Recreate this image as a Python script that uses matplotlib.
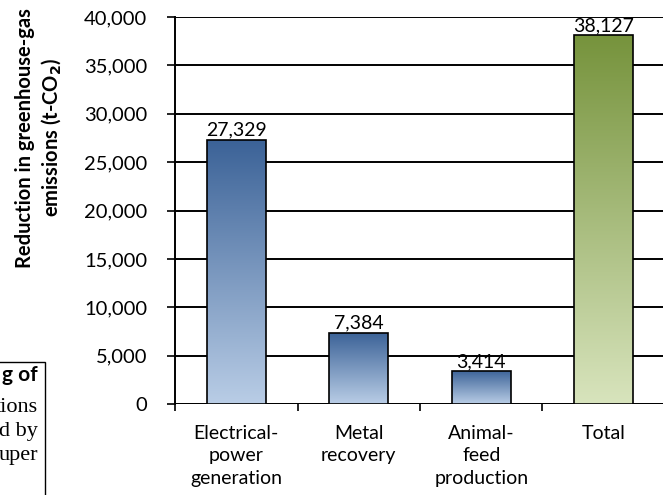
import numpy as np
import matplotlib.pyplot as plt
from matplotlib.colors import LinearSegmentedColormap
from matplotlib.ticker import FuncFormatter

# reduction in GHG emissions (t-CO2)
categories = ['Electrical-\npower\ngeneration', 'Metal\nrecovery', 'Animal-\nfeed\nproduction', 'Total']
values = [27329, 7384, 3414, 38127]
value_labels = ['27,329', '7,384', '3,414', '38,127']

# gradient colours (top, bottom) per bar
blue = ('#3b6297', '#b9cde6')
green = ('#76933c', '#d8e4bd')
bar_colors = [blue, blue, blue, green]

font = 'Lato'
plt.rcParams['font.family'] = font

fig = plt.figure(figsize=(6.63, 4.95), dpi=100)
ax = fig.add_axes([0.264, 0.1838, 0.739, 0.7818])

x = np.arange(len(values))
bars = ax.bar(x, values, width=0.48, facecolor='none', edgecolor='black',
              linewidth=1.2, zorder=4)

# fill every bar with a vertical gradient, clipped to the bar
grad = np.linspace(0, 1, 256).reshape(-1, 1)
for rect, (top, bot) in zip(bars, bar_colors):
    cmap = LinearSegmentedColormap.from_list('g', [bot, top])
    x0 = rect.get_x()
    im = ax.imshow(grad, extent=[x0, x0 + rect.get_width(), 0, rect.get_height()],
                   origin='lower', aspect='auto', cmap=cmap, zorder=3)
    im.set_clip_path(rect)

for xi, v, lab in zip(x, values, value_labels):
    ax.text(xi, v + 100, lab, ha='center', va='bottom', fontsize=14, zorder=5)

ax.set_xlim(-0.5, 3.5)
ax.set_ylim(0, 40000)
ax.set_yticks(np.arange(0, 40001, 5000))
ax.yaxis.set_major_formatter(FuncFormatter(lambda v, p: f'{int(v):,}'))
ax.set_xticks(x)
ax.set_xticklabels(categories, linespacing=1.4)
ax.set_xticks(np.arange(-0.5, 3.6, 1), minor=True)

ax.grid(axis='y', color='black', linewidth=1.4, zorder=1)
ax.set_axisbelow(True)
for s in ['top', 'right', 'bottom']:
    ax.spines[s].set_visible(False)
ax.spines['left'].set_linewidth(1.4)
ax.axhline(0, color='black', linewidth=1.4, zorder=2)

ax.tick_params(axis='y', labelsize=14.5, direction='out', length=6, width=1.2, pad=14)
ax.tick_params(axis='x', which='major', labelsize=14, length=0, pad=15)
ax.tick_params(axis='x', which='minor', direction='out', length=5, width=1.2)

fig.text(0.059, 0.722, 'Reduction in greenhouse-gas\nemissions (t-CO$_\\mathbf{2}$)',
         rotation=90, ha='center', va='center', fontsize=14.5, fontweight='bold',
         multialignment='center', linespacing=1.25)

# piece of the surrounding document page, cut by the crop
fig.add_artist(plt.Rectangle((-0.01, -0.01), 0.078, 0.279, transform=fig.transFigure,
                             facecolor='none', edgecolor='black', linewidth=1.0))
fig.text(0.057, 0.230, 'g of', ha='right', va='baseline', fontsize=15, fontweight='bold')
doc_lines = ['tions', 'd by', 'uper']
for i, t in enumerate(doc_lines):
    fig.text(0.057, 0.168 - i * 0.049, t, ha='right', va='baseline', fontsize=16,
             family='Liberation Serif')

fig.savefig('out.png', dpi=100)
